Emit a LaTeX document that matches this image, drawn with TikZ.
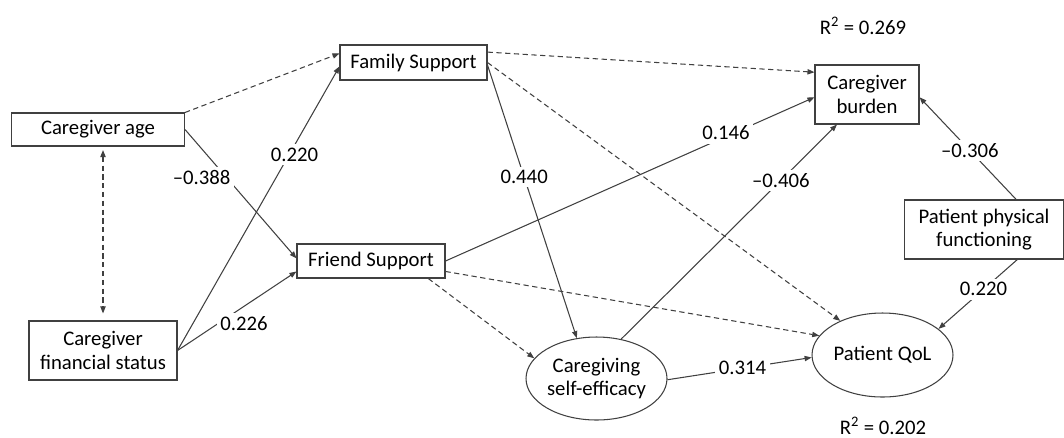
\documentclass[tikz,border=0pt]{standalone}
\usepackage{fontspec}
\setmainfont{Carlito}
\usetikzlibrary{arrows.meta,shapes.geometric}
\begin{document}
\begin{tikzpicture}[x=0.02cm,y=-0.02cm,
		font=\fontsize{11.8}{13.3}\selectfont,
		var/.style={draw=black!75,line width=0.6pt,inner sep=1pt,align=center},
		lat/.style={draw=black!75,line width=0.6pt,ellipse,inner sep=0pt,align=center,minimum width=2.82cm,minimum height=1.66cm},
		path/.style={draw=black!75,line width=0.6pt,-{Triangle[length=4pt,width=3pt]}},
		nspath/.style={path,densely dashed},
		coef/.style={fill=white,inner sep=2pt}]
			\useasboundingbox (0,0) rectangle (1064,437);
			\node [var,minimum width=3.46cm,minimum height=0.66cm] (age) at (98,129.5) {Caregiver age} ;
			\node [var,minimum width=2.96cm,minimum height=1.18cm] (fin) at (103,350.5) {Caregiver\\financial status} ;
			\node [var,minimum width=2.94cm,minimum height=0.70cm] (family) at (413.5,62.5) {Family Support} ;
			\node [var,minimum width=2.96cm,minimum height=0.68cm] (friend) at (371,261) {Friend Support} ;
			\node [var,minimum width=2.08cm,minimum height=1.18cm] (burden) at (867,94.5) {Caregiver\\burden} ;
			\node [var,minimum width=3.18cm,minimum height=1.18cm] (phys) at (984,229.5) {Patient physical\\functioning} ;
			\node [lat] (efficacy) at (596.5,378.5) {Caregiving\\self-efficacy} ;
			\node [lat,minimum height=1.68cm] (qol) at (882.5,355) {Patient QoL} ;
			\node (rburden) at (863,26) {R\textsuperscript{2} = 0.269} ;
			\node [inner sep=0pt] (rqol) at (883,426) {R\textsuperscript{2} = 0.202} ;
			\draw [nspath,{Triangle[length=4pt,width=3pt]}-{Triangle[length=4pt,width=3pt]},shorten <=2pt,shorten >=4pt] (age.south -| fin.north) -- (fin.north) ;
			\draw [nspath] (age.north east) -- (family.173) ;
			\draw [path] (age.east) -- node [coef,pos=0.37,xshift=-14pt] {--0.388} (friend.178) ;
			\draw [path] (fin.east) -- node [coef,pos=0.69,xshift=3pt] {0.220} (family.183) ;
			\draw [path] (fin.east) -- node [coef,pos=0.44,xshift=8pt,yshift=-4.5pt] {0.226} (friend.188) ;
			\draw [nspath] (family.8) -- (burden.157) ;
			\draw [nspath] (family.east) -- (qol.141) ;
			\draw [path] (family.-2) -- node [coef,pos=0.41] {0.440} (efficacy.116) ;
			\draw [path] (friend.east) -- node [coef,pos=0.76,yshift=2pt] {0.146} (burden.183) ;
			\draw [nspath] (friend.-8) -- (qol.163) ;
			\draw [nspath] (friend.-17) -- (efficacy.162) ;
			\draw [path] (efficacy.58) -- node [coef,pos=0.74] {--0.406} (burden.225) ;
			\draw [path] (efficacy.-1) -- node [coef,pos=0.52] {0.314} (qol.182) ;
			\draw [path] (phys.43) -- node [coef,pos=0.48] {--0.306} (burden.-3) ;
			\draw [path] (phys.-42) -- node [coef,pos=0.43] {0.220} (qol.25) ;
		\end{tikzpicture}
\end{document}
